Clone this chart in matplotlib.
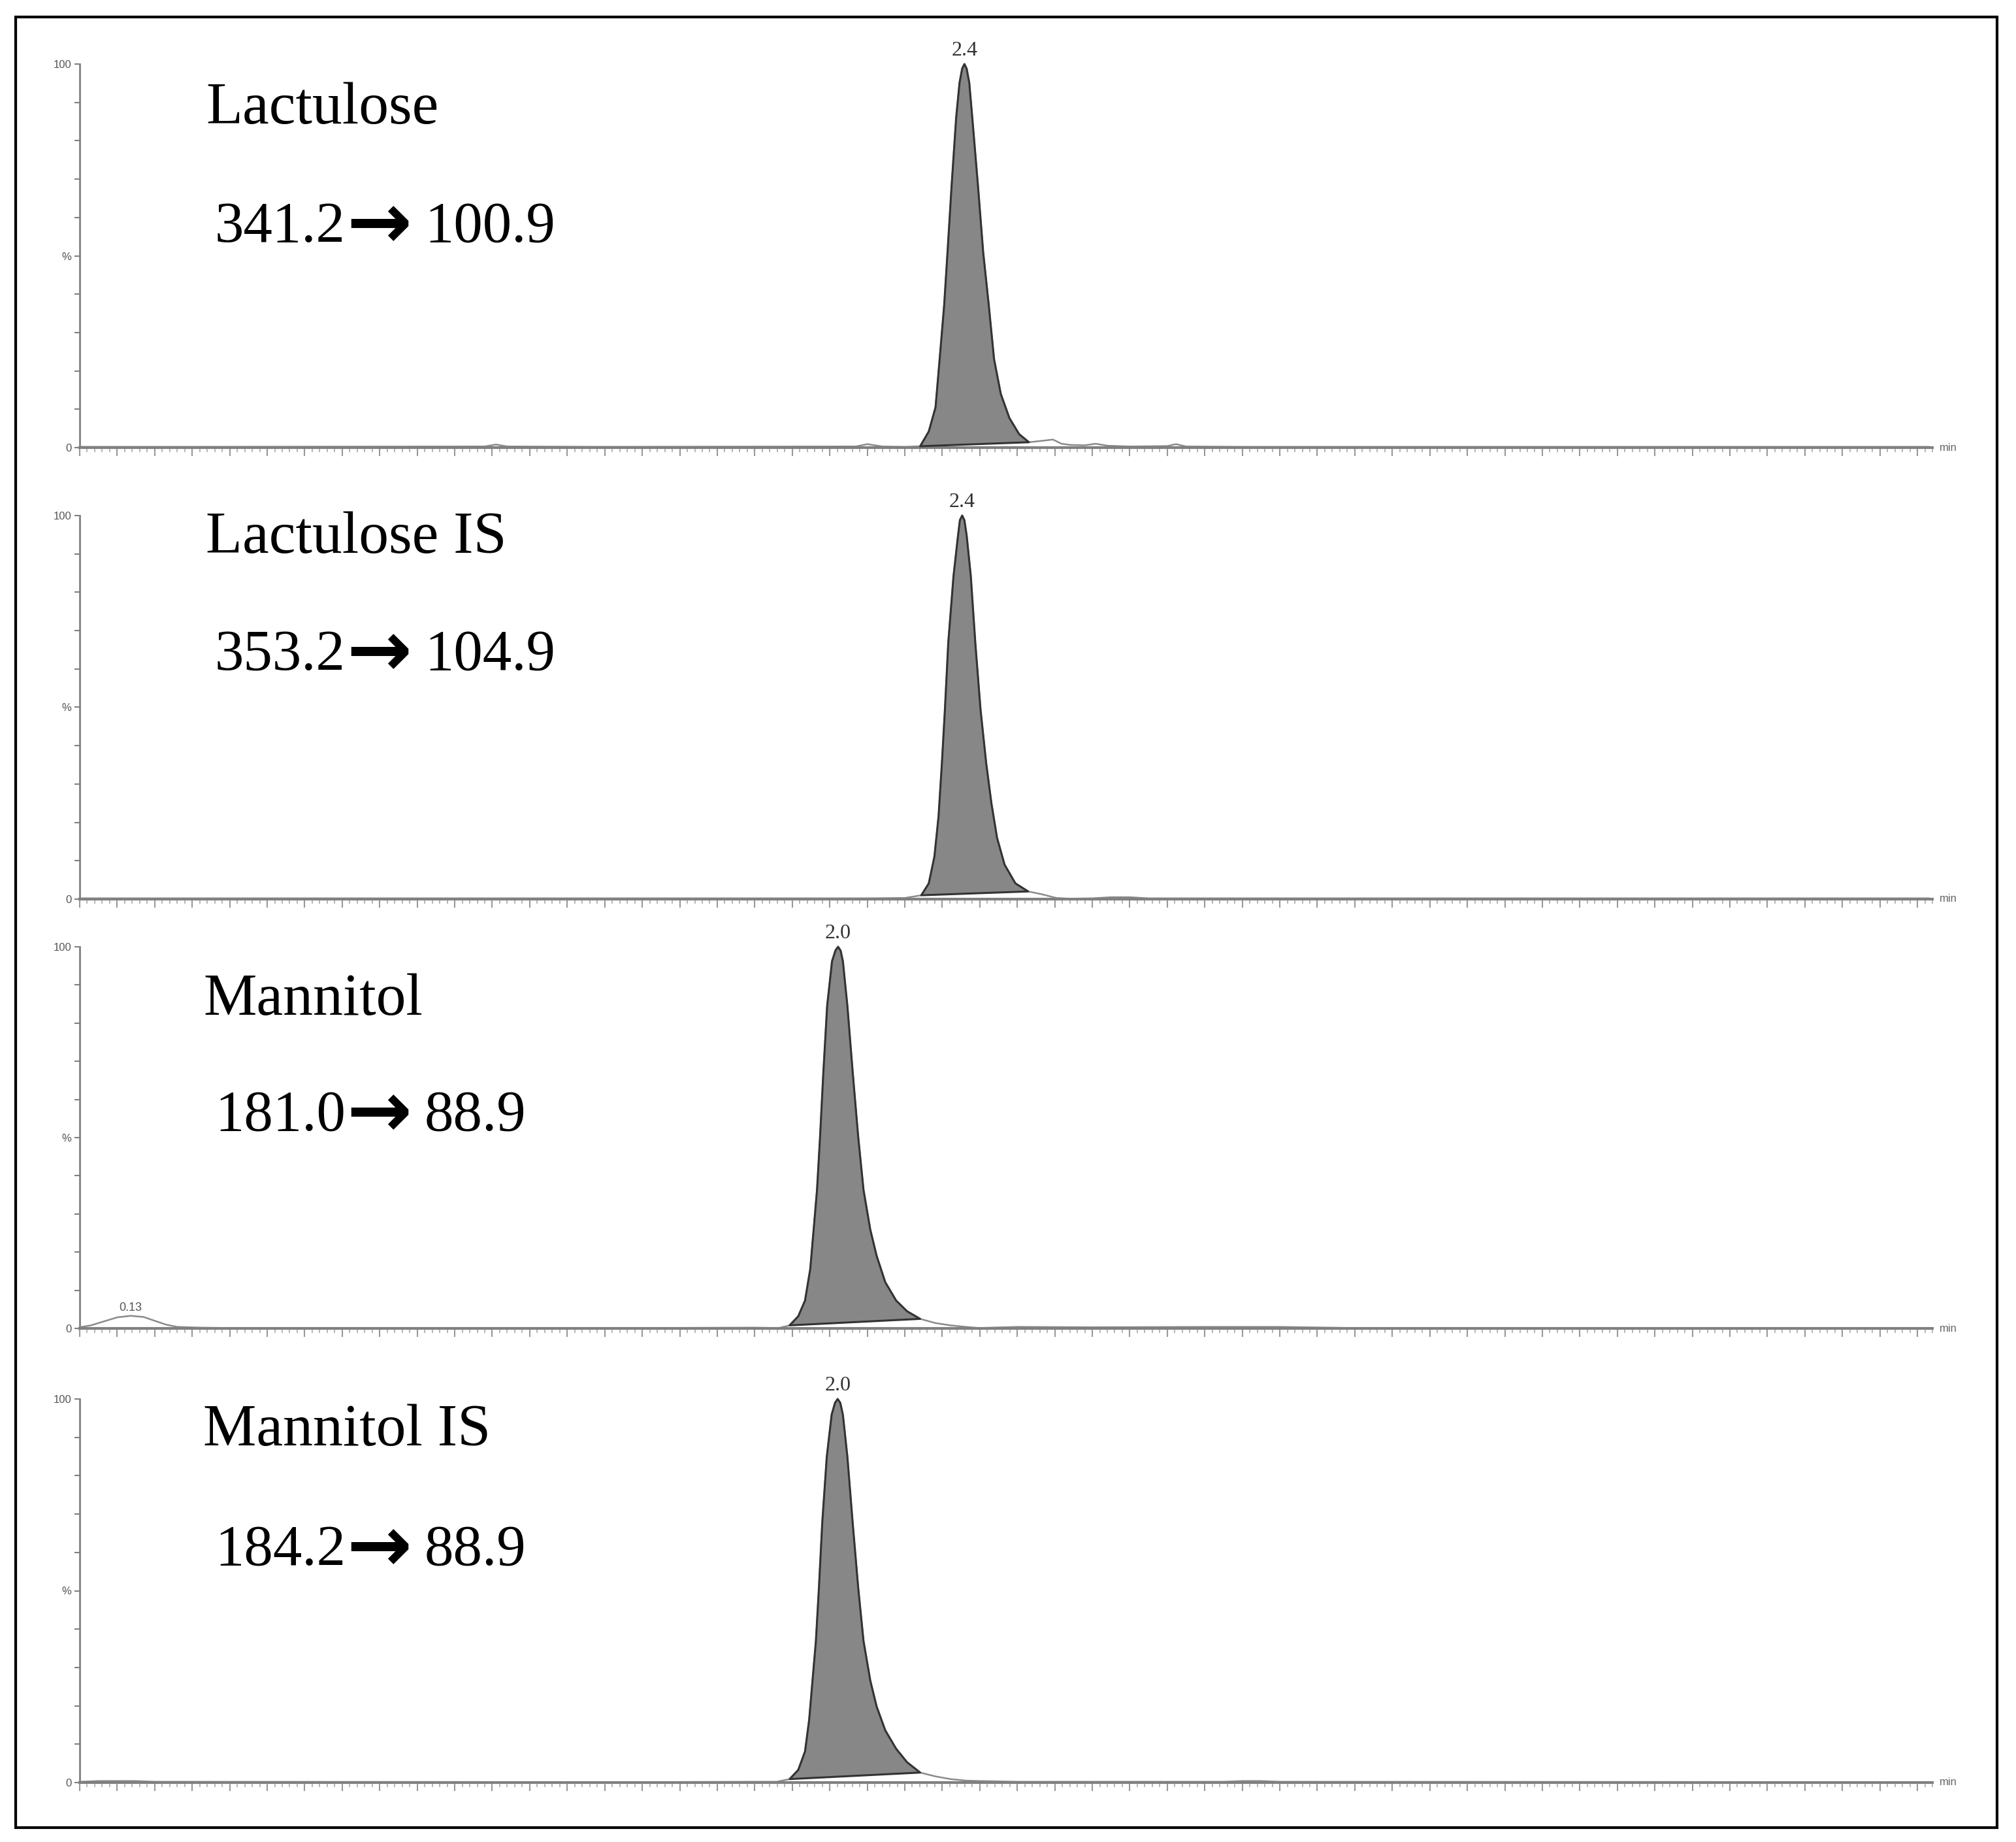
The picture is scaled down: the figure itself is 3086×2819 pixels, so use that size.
import numpy as np
import matplotlib.pyplot as plt
from matplotlib.patches import Rectangle

# retention time (min) and relative abundance (%)
lac_t = [0.00, 0.30, 1.08, 1.11, 1.14, 1.40, 2.07, 2.10, 2.14, 2.20,
         2.241, 2.264, 2.282, 2.293, 2.305, 2.314, 2.325, 2.337, 2.346, 2.353, 2.359,
         2.365, 2.372, 2.380, 2.395, 2.409, 2.424, 2.438, 2.456, 2.479, 2.505, 2.531,
         2.560, 2.595, 2.618, 2.641, 2.68, 2.709, 2.74, 2.80, 2.90, 2.923,
         2.95, 3.10, 4.00, 4.93]
lac_y = [0.2, 0.2, 0.3, 0.8, 0.3, 0.2, 0.3, 0.9, 0.3, 0.2,
         0.35, 4.2, 10.5, 23.1, 37.1, 51.0, 68.5, 86.0, 95.1, 98.8, 100.0,
         98.8, 95.1, 86.0, 68.5, 51.0, 37.1, 23.1, 14.0, 7.7, 3.5, 1.4,
         1.7, 2.1, 1.0, 0.7, 0.6, 1.0, 0.5, 0.3, 0.4, 0.9,
         0.3, 0.2, 0.2, 0.2]

lis_t = [0.00, 1.00, 2.10, 2.20, 2.244, 2.264, 2.279, 2.290, 2.299, 2.307,
         2.316, 2.330, 2.342, 2.347, 2.353, 2.359, 2.365, 2.376, 2.388, 2.402, 2.417, 2.431,
         2.446, 2.466, 2.495, 2.529, 2.564, 2.604, 2.639, 2.70, 2.75, 2.80,
         2.85, 3.00, 4.93]
lis_y = [0.2, 0.2, 0.2, 0.3, 1.0, 4.1, 11.1, 21.5, 35.5, 49.4,
         66.9, 84.3, 94.8, 98.8, 100.0, 98.8, 94.8, 84.3, 66.9, 49.4, 35.5, 25.0,
         16.0, 9.0, 4.1, 2.0, 1.3, 0.3, 0.1, 0.2, 0.5, 0.5,
         0.2, 0.2, 0.2]

man_t = [0.00, 0.03, 0.07, 0.10, 0.136, 0.17, 0.20, 0.23, 0.26, 0.32,
         0.40, 1.50, 1.80, 1.864, 1.893, 1.916, 1.934, 1.948, 1.957, 1.966,
         1.974, 1.983, 1.993, 2.006, 2.015, 2.022, 2.029, 2.035, 2.047, 2.061, 2.076, 2.090,
         2.108, 2.125, 2.148, 2.177, 2.206, 2.241, 2.282, 2.322, 2.363, 2.398,
         2.50, 2.70, 3.00, 3.20, 3.40, 4.93]
man_y = [0.3, 0.8, 2.0, 2.9, 3.3, 3.0, 2.0, 1.0, 0.4, 0.2,
         0.1, 0.1, 0.2, 0.1, 0.8, 3.2, 7.3, 15.6, 25.9, 36.3,
         50.0, 67.3, 84.5, 96.2, 99.0, 100.0, 99.0, 96.2, 84.5, 67.3, 50.0, 36.3,
         25.9, 19.0, 12.1, 7.3, 4.5, 2.5, 1.4, 0.8, 0.4, 0.1,
         0.4, 0.3, 0.4, 0.4, 0.1, 0.1]

mis_t = [0.00, 0.05, 0.10, 0.15, 0.20, 1.50, 1.80, 1.858, 1.893, 1.916,
         1.934, 1.945, 1.954, 1.963, 1.971, 1.980, 1.992, 2.005, 2.014, 2.021, 2.028, 2.035,
         2.047, 2.061, 2.076, 2.090, 2.108, 2.125, 2.148, 2.177, 2.206, 2.241,
         2.282, 2.322, 2.363, 2.398, 2.50, 3.05, 3.10, 3.15, 3.20, 4.93]
mis_y = [0.2, 0.4, 0.4, 0.4, 0.2, 0.1, 0.2, 0.2, 0.9, 3.3,
         8.1, 16.3, 26.6, 36.9, 50.6, 67.8, 84.9, 95.9, 99.0, 100.0, 99.0, 95.9,
         84.9, 67.8, 50.6, 36.9, 26.6, 19.8, 13.6, 8.8, 5.3, 2.6,
         1.6, 0.9, 0.5, 0.4, 0.2, 0.2, 0.4, 0.4, 0.2, 0.1]

# integrated peak windows (start, end) in min
lac_fill = (2.241, 2.531)
lis_fill = (2.244, 2.529)
man_fill = (1.893, 2.241)
mis_fill = (1.893, 2.241)

names = ["Lactulose", "Lactulose IS", "Mannitol", "Mannitol IS"]
precursors = ["341.2", "353.2", "181.0", "184.2"]
products = ["100.9", "104.9", "88.9", "88.9"]
peak_labels = [("2.4", 2.359), ("2.4", 2.353), ("2.0", 2.022), ("2.0", 2.021)]

traces = [(lac_t, lac_y, lac_fill), (lis_t, lis_y, lis_fill),
          (man_t, man_y, man_fill), (mis_t, mis_y, mis_fill)]

W, H = 3086, 2819
fig = plt.figure(figsize=(W / 100, H / 100), dpi=100)

# panel zero / 100% lines in pixels
zero_px = [685, 1376, 2033, 2728]
top_px = [98, 789, 1449, 2141]
name_px = [(315, 189), (315, 846), (311, 1553), (311, 2212)]
trans_y = [370, 1025, 1730, 2395]
x_left, x_right = 122, 2958

serif = ["Liberation Serif", "DejaVu Serif"]
grey = "#808080"

for i in range(4):
    ax = fig.add_axes([x_left / W, 1 - zero_px[i] / H,
                       (x_right - x_left) / W, (zero_px[i] - top_px[i]) / H])
    t = np.array(traces[i][0])
    y = np.array(traces[i][1])
    f0, f1 = traces[i][2]

    ax.plot(t, y, color="#8a8a8a", lw=1.8, clip_on=False, zorder=2)
    m = (t >= f0) & (t <= f1)
    ax.fill(t[m], y[m], facecolor="#878787", edgecolor="#333333", lw=2.2,
            joinstyle="round", clip_on=False, zorder=3)

    lab, lt = peak_labels[i]
    ax.text(lt, 101.0, lab, ha="center", va="bottom", fontsize=23,
            family=serif, color="#333333", clip_on=False)
    if i == 2:
        ax.text(0.136, 3.9, "0.13", ha="center", va="bottom", fontsize=13,
                family="Liberation Sans", color="#555555")

    ax.set_xlim(0, 4.93)
    ax.set_ylim(0, 100)
    for s in ["top", "right"]:
        ax.spines[s].set_visible(False)
    ax.spines["left"].set_color(grey)
    ax.spines["left"].set_linewidth(2)
    ax.spines["bottom"].set_color(grey)
    ax.spines["bottom"].set_linewidth(3)

    ax.set_xticks(np.arange(0, 4.95, 0.1))
    ax.set_xticks(np.arange(0, 4.95, 0.02), minor=True)
    ax.set_xticklabels([])
    ax.tick_params(axis="x", which="major", length=9, width=1.5, color="#999999")
    ax.tick_params(axis="x", which="minor", length=5, width=1.2, color="#aaaaaa")

    ax.set_yticks(np.arange(0, 101, 10))
    ax.set_yticklabels(["0", "", "", "", "", "%", "", "", "", "", "100"])
    ax.tick_params(axis="y", length=6, width=1.5, color=grey, pad=3,
                   labelsize=12, labelcolor="#555555")
    for tl in ax.get_yticklabels():
        tl.set_family("Liberation Sans")

    ax.text(1.004, 0, "min", transform=ax.transAxes, ha="left", va="center",
            fontsize=12, color="#666666", family="Liberation Sans")

    fig.text(name_px[i][0] / W, 1 - name_px[i][1] / H, names[i], fontsize=66,
             family=serif, va="baseline", ha="left")
    ty = 1 - trans_y[i] / H
    fig.text(329 / W, ty, precursors[i], fontsize=64, family=serif,
             va="baseline", ha="left")
    fig.text(530 / W, 1 - (trans_y[i] - 24) / H, "\u2192", fontsize=86,
             family="DejaVu Sans", weight="bold", va="center", ha="left")
    fig.text(650 / W, ty, products[i], fontsize=64, family=serif,
             va="baseline", ha="left")

fig.add_artist(Rectangle((24 / W, 1 - 2797 / H), (3057 - 24) / W, (2797 - 26) / H,
                         transform=fig.transFigure, fill=False, ec="black", lw=3))

fig.savefig("out.png", dpi=100)
